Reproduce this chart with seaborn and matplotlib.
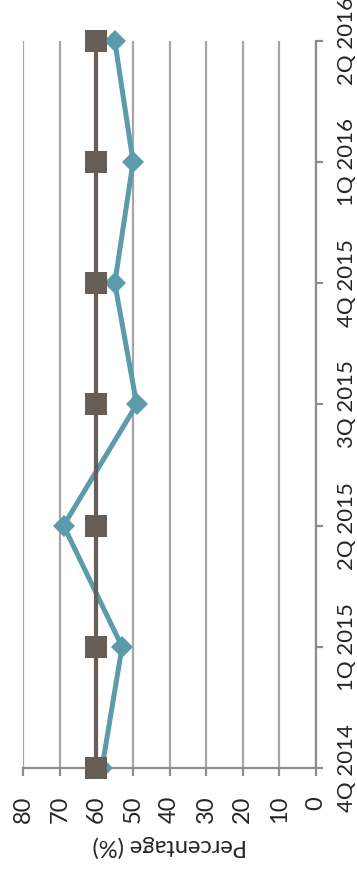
import numpy as np
import pandas as pd
import matplotlib
matplotlib.use("Agg")
import matplotlib.pyplot as plt
import seaborn as sns

categories = ["4Q 2014", "1Q 2015", "2Q 2015", "3Q 2015", "4Q 2015", "1Q 2016", "2Q 2016"]
series_teal = [58.5, 53, 69, 49, 55, 50, 55]
series_brown = [60, 60, 60, 60, 60, 60, 60]
value_ticks = [0, 10, 20, 30, 40, 50, 60, 70, 80]
axis_label = "Percentage (%)"

sns.set_style("white")
plt.rcParams["font.family"] = ["Lato", "DejaVu Sans"]

pos = np.arange(len(categories))
df = pd.DataFrame({"pos": pos, "teal": series_teal, "brown": series_brown})

fig = plt.figure(figsize=(3.57, 8.72), dpi=100)
ax = fig.add_axes([23.3 / 357, (872 - 768) / 872, (316 - 23.3) / 357, (768 - 40.7) / 872])

sns.lineplot(data=df, x="teal", y="pos", orient="y", sort=False, ax=ax,
             color="#5B9BAA", linewidth=3.6, marker="D", markersize=11,
             markeredgewidth=0, clip_on=False, zorder=3)
sns.lineplot(data=df, x="brown", y="pos", orient="y", sort=False, ax=ax,
             color="#675E57", linewidth=3.0, marker="s", markersize=15.5,
             markeredgewidth=0, clip_on=False, zorder=4)

ax.set_xlim(80, 0)
ax.set_ylim(0, len(categories) - 1)
ax.set_xticks(value_ticks)
ax.set_xticklabels([str(v) for v in value_ticks], rotation=90, fontsize=17)
ax.yaxis.tick_right()
ax.set_yticks(pos)
ax.set_yticklabels(categories, rotation=90, va="center", fontsize=16)
ax.set_ylabel("")
ax.set_xlabel(axis_label, rotation=180, fontsize=17, labelpad=8)

ax.grid(axis="x", color="#A6A6A6", linewidth=1.6)
ax.grid(axis="y", visible=False)
for s in ["top", "left"]:
    ax.spines[s].set_visible(False)
for s in ["right", "bottom"]:
    ax.spines[s].set_color("#8C8C8C")
    ax.spines[s].set_linewidth(1.6)
ax.tick_params(axis="x", direction="out", length=6, width=1.6, color="#8C8C8C", pad=14, bottom=True)
ax.tick_params(axis="y", direction="out", length=5, width=1.6, color="#8C8C8C", pad=10, right=True, left=False)

fig.savefig("out.png", dpi=100)
